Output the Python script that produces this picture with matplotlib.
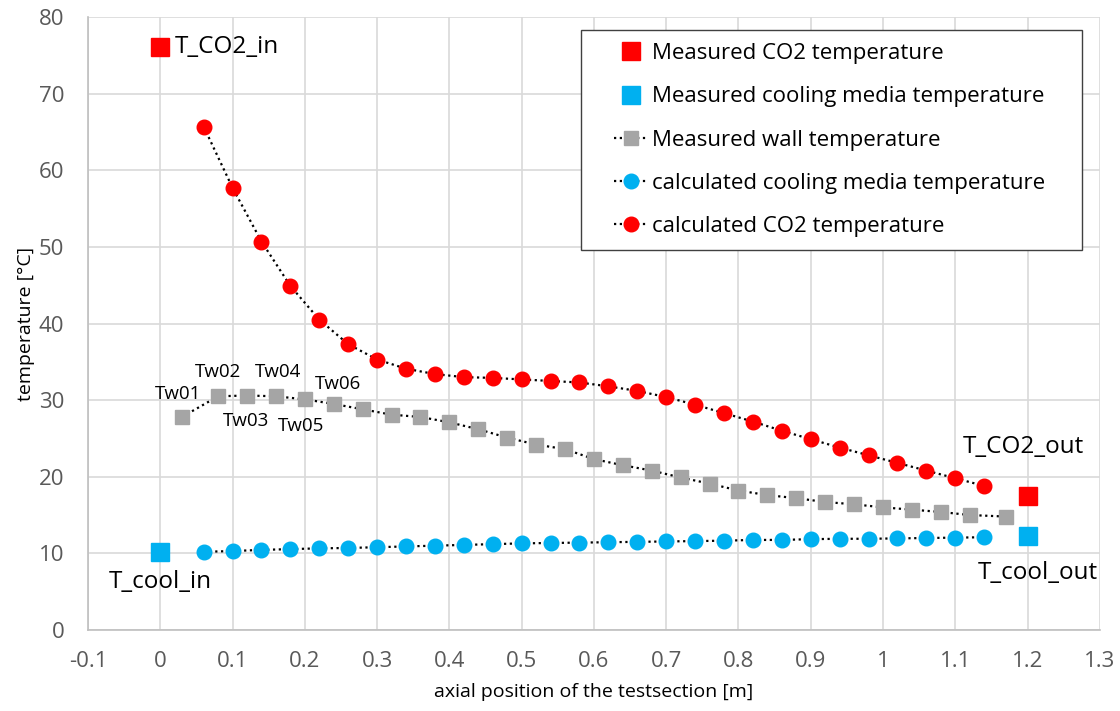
import matplotlib
matplotlib.use("Agg")
import matplotlib.pyplot as plt
from matplotlib.lines import Line2D
from matplotlib.legend_handler import HandlerLine2D
from matplotlib.ticker import MultipleLocator, FuncFormatter

plt.rcParams['font.family'] = ['Open Sans', 'DejaVu Sans']

# Measured inlet / outlet temperatures
meas_x = [0.0, 1.2]
meas_co2 = [76.1, 17.5]
meas_cool = [10.2, 12.3]

# Calculated profiles along the test section
calc_x = [0.06, 0.10, 0.14, 0.18, 0.22, 0.26, 0.30, 0.34, 0.38, 0.42,
          0.46, 0.50, 0.54, 0.58, 0.62, 0.66, 0.70, 0.74, 0.78, 0.82,
          0.86, 0.90, 0.94, 0.98, 1.02, 1.06, 1.10, 1.14]
calc_co2 = [65.7, 57.7, 50.7, 44.9, 40.5, 37.3, 35.3, 34.1, 33.4, 33.0,
            32.9, 32.7, 32.5, 32.3, 31.8, 31.2, 30.4, 29.4, 28.3, 27.2,
            26.0, 24.9, 23.8, 22.8, 21.8, 20.8, 19.8, 18.8]
calc_cool = [10.2, 10.3, 10.45, 10.55, 10.65, 10.7, 10.8, 10.9, 11.0, 11.1,
             11.2, 11.3, 11.35, 11.4, 11.45, 11.5, 11.55, 11.6, 11.65, 11.75,
             11.75, 11.85, 11.9, 11.9, 11.95, 12.0, 12.05, 12.1]

# Wall thermocouples
wall_x = [0.03, 0.08, 0.12, 0.16, 0.20, 0.24, 0.28, 0.32, 0.36, 0.40,
          0.44, 0.48, 0.52, 0.56, 0.60, 0.64, 0.68, 0.72, 0.76, 0.80,
          0.84, 0.88, 0.92, 0.96, 1.00, 1.04, 1.08, 1.12, 1.17]
wall_t = [27.8, 30.5, 30.6, 30.5, 30.1, 29.5, 28.8, 28.1, 27.8, 27.1,
          26.2, 25.1, 24.2, 23.6, 22.3, 21.5, 20.8, 19.9, 19.1, 18.2,
          17.6, 17.2, 16.7, 16.4, 16.0, 15.7, 15.4, 15.0, 14.8]
wall_labels = ["Tw01", "Tw02", "Tw03", "Tw04", "Tw05", "Tw06"]

RED = "#FF0000"
CYAN = "#00B0F0"
GRAY = "#A5A5A5"
DOTS = (0, (1, 1.6))

fig = plt.figure(figsize=(11.2, 7.11), dpi=100)
ax = fig.add_axes([0.0786, 0.114, 0.9034, 0.862])

ax.plot(meas_x, meas_co2, ls="none", marker="s", ms=13,
        color=RED, label="Measured CO2 temperature", zorder=4)
ax.plot(meas_x, meas_cool, ls="none", marker="s", ms=13,
        color=CYAN, label="Measured cooling media temperature", zorder=4)
ax.plot(wall_x, wall_t, ls=DOTS, lw=1.6, color="black",
        marker="s", ms=10.5, mfc=GRAY, mec=GRAY,
        label="Measured wall temperature", zorder=3)
ax.plot(calc_x, calc_cool, ls=DOTS, lw=1.6, color="black",
        marker="o", ms=10.5, mfc=CYAN, mec=CYAN,
        label="calculated cooling media temperature", zorder=3)
ax.plot(calc_x, calc_co2, ls=DOTS, lw=1.6, color="black",
        marker="o", ms=10.5, mfc=RED, mec=RED,
        label="calculated CO2 temperature", zorder=3)

# Inlet / outlet annotations
fs_ann = 17.5
ax.annotate("T_CO2_in", (meas_x[0], meas_co2[0]), xytext=(10.5, 0),
            textcoords="offset points", ha="left", va="center", fontsize=fs_ann)
ax.annotate("T_cool_in", (meas_x[0], meas_cool[0]), xytext=(-37, -22),
            textcoords="offset points", ha="left", va="center", fontsize=fs_ann)
ax.annotate("T_CO2_out", (meas_x[1], meas_co2[1]), xytext=(-46.5, 35),
            textcoords="offset points", ha="left", va="center", fontsize=fs_ann)
ax.annotate("T_cool_out", (meas_x[1], meas_cool[1]), xytext=(-35.7, -27),
            textcoords="offset points", ha="left", va="center", fontsize=fs_ann)

# Wall thermocouple tags
tw_offsets = [(-2.7, 16.6), (0, 17.6), (-0.5, -18.7), (1.7, 17.8),
              (-2.6, -19.2), (3.2, 14.4)]
for lbl, x, y, off in zip(wall_labels, wall_x, wall_t, tw_offsets):
    ax.annotate(lbl, (x, y), xytext=off, textcoords="offset points",
                ha="center", va="center", fontsize=13.5)

ax.set_xlim(-0.1, 1.3)
ax.set_ylim(0, 80)
ax.xaxis.set_major_locator(MultipleLocator(0.1))
ax.yaxis.set_major_locator(MultipleLocator(10))


def fmt(v, _):
    v = round(v, 1)
    if abs(v - round(v)) < 1e-9:
        return f"{int(round(v))}"
    return f"{v:g}"


ax.xaxis.set_major_formatter(FuncFormatter(fmt))
ax.tick_params(axis="both", length=0, labelsize=16, colors="#595959")
ax.tick_params(axis="x", pad=15)
ax.tick_params(axis="y", pad=17)
ax.grid(True, color="#D9D9D9", lw=1.2)
ax.set_axisbelow(True)
for s in ["top", "right"]:
    ax.spines[s].set_visible(False)
for s in ["left", "bottom"]:
    ax.spines[s].set_color("#BFBFBF")
    ax.spines[s].set_linewidth(1.2)

ax.set_xlabel("axial position of the testsection [m]", fontsize=14, labelpad=8)
ax.set_ylabel("temperature [°C]", fontsize=14, labelpad=3)

leg = ax.legend(loc="upper left", bbox_to_anchor=(0.487, 0.55, 0.495, 0.429),
                mode="expand", borderaxespad=0, fontsize=16,
                frameon=True, fancybox=False, edgecolor="#404040",
                framealpha=1, borderpad=0.6, labelspacing=1.0,
                handlelength=2.4, handletextpad=0.2,
                handler_map={Line2D: HandlerLine2D(xpad=0.9)})
leg.get_frame().set_linewidth(1.0)

fig.savefig("out.png", dpi=100)
